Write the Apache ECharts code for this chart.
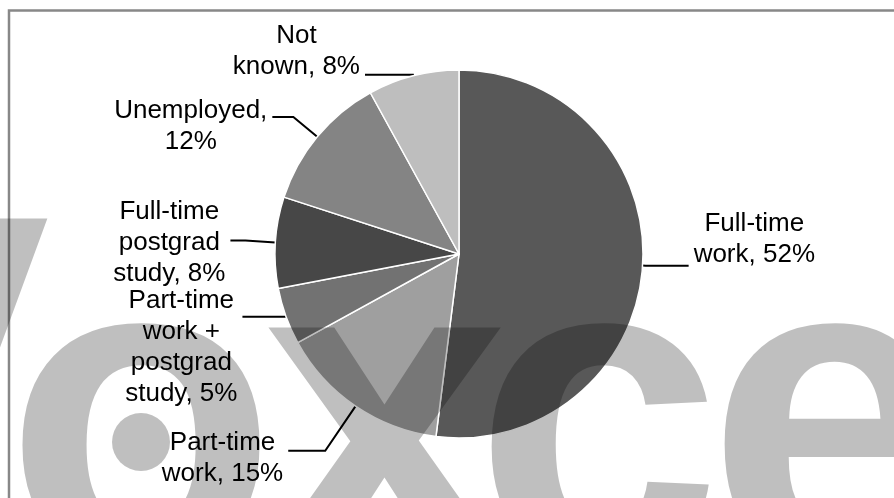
<!DOCTYPE html>
<html>
<head>
<meta charset="utf-8">
<script src="https://cdn.jsdelivr.net/npm/echarts@6/dist/echarts.min.js"></script>
<style>
html,body{margin:0;padding:0;background:#fff;}
#chart{width:894px;height:498px;}
</style>
</head>
<body>
<div id="chart"></div>
<script>
// ---- data ----
var categories = ['Full-time work', 'Part-time work', 'Part-time work + postgrad study', 'Full-time postgrad study', 'Unemployed', 'Not known'];
var values = [52, 15, 5, 8, 12, 8];
var labelLines = [
  ['Full-time', 'work, 52%'],
  ['Part-time', 'work, 15%'],
  ['Part-time', 'work +', 'postgrad', 'study, 5%'],
  ['Full-time', 'postgrad', 'study, 8%'],
  ['Unemployed,', '12%'],
  ['Not', 'known, 8%']
];
var watermarkLetters = ['V', 'o', 'x', 'c', 'e'];

// ---- styles ----
var sliceColors = ['#585858', '#9f9f9f', '#727272', '#474747', '#848484', '#bebebe'];
var lineLen1 = [3, 54, 1, 30, 31, 1];
var lineLen2 = [43, 37, 42.5, 15, 21, 48];
var labelPad = [[0,0,52,0], [15,0,0,0], [62,0,0,0], [5,0,0,0], [18,0,0,0], [0,0,47,0]];
var wmX = [-98, 141, 385, 598, 831];
var wmY = [402, 440, 440, 440, 440];
var wmSize = 445;

var chart = echarts.init(document.getElementById('chart'), null, {renderer: 'canvas'});

var seriesData = categories.map(function (name, i) {
  return {
    name: name,
    value: values[i],
    itemStyle: {color: sliceColors[i]},
    label: {padding: labelPad[i]},
    labelLine: {length: lineLen1[i], length2: lineLen2[i]}
  };
});

var graphics = [{
  type: 'rect',
  silent: true,
  z: -10,
  shape: {x: 9, y: 10.5, width: 1000, height: 1000},
  style: {fill: 'none', stroke: '#888888', lineWidth: 2.5}
}];
watermarkLetters.forEach(function (ch, i) {
  graphics.push({
    type: 'text',
    silent: true,
    z: 100,
    x: wmX[i],
    y: wmY[i],
    style: {
      text: ch,
      font: 'bold ' + wmSize + 'px "Liberation Sans", Arial, sans-serif',
      fill: 'rgba(0,0,0,0.25)',
      align: 'center',
      verticalAlign: 'middle'
    }
  });
});
graphics.push({
  type: 'circle',
  silent: true,
  z: 100,
  shape: {cx: 141, cy: 442, r: 29},
  style: {fill: 'rgba(0,0,0,0.25)'}
});

chart.setOption({
  animation: false,
  backgroundColor: '#ffffff',
  series: [{
    type: 'pie',
    center: [459, 254],
    radius: 184,
    startAngle: 90,
    clockwise: true,
    avoidLabelOverlap: false,
    itemStyle: {borderColor: '#ffffff', borderWidth: 1.5},
    label: {
      show: true,
      position: 'outside',
      color: '#000',
      distanceToLabelLine: 5,
      formatter: function (p) {
        return labelLines[p.dataIndex].map(function (s) { return '{c|' + s + '}'; }).join('\n');
      },
      rich: {
        c: {
          align: 'center',
          fontSize: 26,
          lineHeight: 31,
          color: '#000',
          fontFamily: '"Liberation Sans", Arial, sans-serif'
        }
      }
    },
    labelLine: {
      show: true,
      smooth: false,
      lineStyle: {color: '#000', width: 2}
    },
    emphasis: {disabled: true},
    data: seriesData
  }],
  graphic: graphics
});
</script>
</body>
</html>
